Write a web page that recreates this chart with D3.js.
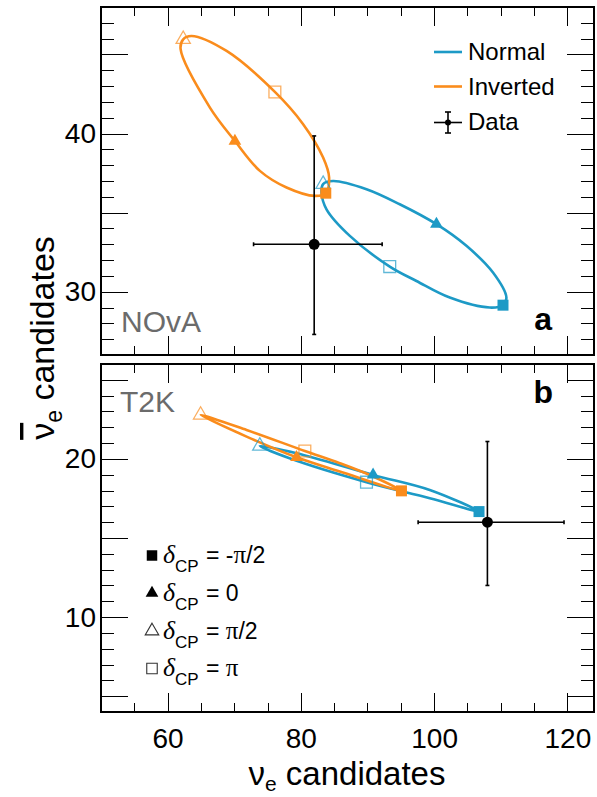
<!DOCTYPE html>
<html><head><meta charset="utf-8">
<script src="https://cdn.jsdelivr.net/npm/d3@7"></script>
<style>html,body{margin:0;padding:0;background:#fff}</style>
</head><body>
<svg id="c" width="597" height="797"></svg>
<script>
// ---------------- data ----------------
const deltaLabels = ["-π/2", "0", "π/2", "π"];
const xTickLabels = [60, 80, 100, 120];
const yTickLabelsA = [30, 40];
const yTickLabelsB = [10, 20];
const seriesNames = ["Normal", "Inverted"];
const panelNames = ["NOvA", "T2K"];

// closed curves traced around the ellipses (ν_e, ν̄_e)
const novaNormalCurve = [[110.34,29.15],[110.85,29.63],[108.84,31.21],[104.85,32.9],[100.35,34.27],[94.84,35.53],[89.85,36.48],[84.84,37.0],[83.34,36.8],[83.1,36.27],[83.85,35.21],[87.35,33.53],[93.34,31.59],[97.35,30.68],[102.35,29.63],[108.34,29.0]];
const novaInvertedCurve = [[83.74,36.23],[82.1,36.06],[77.85,36.59],[73.85,37.64],[70.1,39.53],[66.35,41.64],[61.95,45.33],[62.34,45.96],[63.6,46.17],[68.85,45.22],[76.1,42.63],[80.34,40.59],[83.34,38.48],[84.24,37.22]];
const t2kNormalCurve = [[106.74,16.67],[99.35,18.04],[90.84,18.99],[79.35,20.36],[73.84,20.82],[78.3,20.04],[89.85,18.53],[99.35,17.52]];
const t2kInvertedCurve = [[95.1,17.98],[85.84,19.2],[79.35,20.1],[71.85,21.41],[64.95,22.78],[71.85,21.83],[80.6,20.5],[85.84,19.73],[90.5,18.95]];

// markers at δCP = -π/2, 0, π/2, π
const novaNormalPts = [[110.34,29.15],[100.35,34.27],[83.34,36.8],[93.34,31.59]];
const novaInvertedPts = [[83.74,36.23],[70.1,39.53],[62.34,45.96],[76.1,42.63]];
const t2kNormalPts = [[106.74,16.67],[90.84,18.99],[73.84,20.82],[89.85,18.53]];
const t2kInvertedPts = [[95.1,17.98],[79.35,20.1],[64.95,22.78],[80.6,20.5]];

// observed data [x, y], x-range, y-range
const novaData = [82.0, 33.0];
const novaXErr = [72.9, 92.2];
const novaYErr = [27.3, 39.85];
const t2kData = [108.0, 16.0];
const t2kXErr = [97.6, 119.5];
const t2kYErr = [12.0, 21.1];

// ---------------- layout ----------------
const BLUE = "#1d9ac6", ORANGE = "#fa8c1c";
const FONT = "'Liberation Sans', Arial, Helvetica, sans-serif";
const SERIF = "'Liberation Serif', 'Times New Roman', serif";
const svg = d3.select("#c");
const L = 101, R = 594;
const x = d3.scaleLinear().domain([50, 124]).range([L, R]);
const yA = d3.scaleLinear().domain([26, 48]).range([355, 7]);
const yB = d3.scaleLinear().domain([4, 26]).range([712, 364]);

function ticksAll(a, b, step) { const r = []; for (let v = Math.ceil(a/step)*step; v <= b; v += step) r.push(+v.toFixed(6)); return r; }

function drawAxes(y, labels, showX) {
  const [d0, d1] = y.domain();
  const top = y.range()[1], bot = y.range()[0];
  const yMajor = ticksAll(d0, d1, 5).filter(v => v > d0 && v < d1);
  const yMinor = ticksAll(d0, d1, 1).filter(v => v % 5 !== 0 && v > d0 && v < d1);
  const xMajor = xTickLabels;
  const xMinor = ticksAll(50, 124, 5).filter(v => v % 20 !== 0 && v > 50);
  const g = svg.append("g").attr("font-family", FONT);
  const style = sel => {
    sel.select(".domain").remove();
    sel.selectAll("line").attr("stroke", "#000").attr("stroke-width", 1).attr("shape-rendering","crispEdges");
    sel.selectAll("text").filter(function(){ return this.textContent === ""; }).remove();
  };
  const lab = s => s.selectAll("text").attr("font-size", 28).attr("font-family", FONT).attr("fill", "#000");
  g.append("g").attr("transform", `translate(${L},0)`)
    .call(d3.axisLeft(y).tickValues(yMajor).tickSize(-27).tickPadding(5).tickFormat(d => labels.includes(d) ? d : ""))
    .call(style).call(lab);
  g.append("g").attr("transform", `translate(${L},0)`)
    .call(d3.axisLeft(y).tickValues(yMinor).tickSize(-13).tickFormat("")).call(style);
  g.append("g").attr("transform", `translate(${R},0)`)
    .call(d3.axisRight(y).tickValues(yMajor).tickSize(-27).tickFormat("")).call(style);
  g.append("g").attr("transform", `translate(${R},0)`)
    .call(d3.axisRight(y).tickValues(yMinor).tickSize(-13).tickFormat("")).call(style);
  g.append("g").attr("transform", `translate(0,${top})`)
    .call(d3.axisTop(x).tickValues(xMajor).tickSize(-19).tickFormat("")).call(style);
  g.append("g").attr("transform", `translate(0,${top})`)
    .call(d3.axisTop(x).tickValues(xMinor).tickSize(-9).tickFormat("")).call(style);
  g.append("g").attr("transform", `translate(0,${bot})`)
    .call(d3.axisBottom(x).tickValues(xMajor).tickSize(-19).tickPadding(16).tickFormat(d => showX ? d : ""))
    .call(style).call(lab);
  g.append("g").attr("transform", `translate(0,${bot})`)
    .call(d3.axisBottom(x).tickValues(xMinor).tickSize(-9).tickFormat("")).call(style);
  svg.append("rect").attr("x", L).attr("y", top).attr("width", R - L).attr("height", bot - top)
    .attr("fill", "none").attr("stroke", "#000").attr("stroke-width", 2);
}

const symTypes = [d3.symbolSquare, d3.symbolTriangle, d3.symbolTriangle, d3.symbolSquare];
const symSizes = [121, 70, 88, 140];
const symFilled = [true, true, false, false];

function drawCurve(y, curve, color) {
  const line = d3.line().x(d => x(d[0])).y(d => y(d[1])).curve(d3.curveCatmullRomClosed.alpha(0.5));
  svg.append("path").attr("d", line(curve)).attr("fill", "none").attr("stroke", color).attr("stroke-width", 2.6);
}
function drawMarkers(y, pts, color) {
  svg.append("g").selectAll("path").data(pts).join("path")
    .attr("transform", d => `translate(${x(d[0])},${y(d[1])})`)
    .attr("d", (d, i) => d3.symbol(symTypes[i], symSizes[i])())
    .attr("fill", (d, i) => symFilled[i] ? color : "none")
    .attr("stroke", color)
    .attr("stroke-opacity", (d, i) => symFilled[i] ? 1 : 0.7)
    .attr("stroke-width", (d, i) => symFilled[i] ? 0 : 1.3);
}
function drawData(y, pt, xe, ye) {
  const g = svg.append("g").attr("stroke", "#000").attr("stroke-width", 1.6);
  g.append("line").attr("x1", x(xe[0])).attr("x2", x(xe[1])).attr("y1", y(pt[1])).attr("y2", y(pt[1]));
  g.append("line").attr("x1", x(pt[0])).attr("x2", x(pt[0])).attr("y1", y(ye[0])).attr("y2", y(ye[1]));
  [xe[0], xe[1]].forEach(v => g.append("line").attr("x1", x(v)).attr("x2", x(v)).attr("y1", y(pt[1]) - 2).attr("y2", y(pt[1]) + 2));
  [ye[0], ye[1]].forEach(v => g.append("line").attr("y1", y(v)).attr("y2", y(v)).attr("x1", x(pt[0]) - 2).attr("x2", x(pt[0]) + 2));
  svg.append("circle").attr("cx", x(pt[0])).attr("cy", y(pt[1])).attr("r", 5.5).attr("fill", "#000");
}

// panel a: NOvA
drawAxes(yA, yTickLabelsA, false);
drawCurve(yA, novaNormalCurve, BLUE);
drawCurve(yA, novaInvertedCurve, ORANGE);
drawMarkers(yA, novaNormalPts, BLUE);
drawMarkers(yA, novaInvertedPts, ORANGE);
drawData(yA, novaData, novaXErr, novaYErr);

// panel b: T2K
drawAxes(yB, yTickLabelsB, true);
drawCurve(yB, t2kNormalCurve, BLUE);
drawCurve(yB, t2kInvertedCurve, ORANGE);
drawMarkers(yB, t2kNormalPts, BLUE);
drawMarkers(yB, t2kInvertedPts, ORANGE);
drawData(yB, t2kData, t2kXErr, t2kYErr);

// panel labels
svg.append("text").attr("x", 121).attr("y", 332).attr("font-family", FONT).attr("font-size", 30).attr("fill", "#6b6b6b").text(panelNames[0]);
svg.append("text").attr("x", 120).attr("y", 412).attr("font-family", FONT).attr("font-size", 30).attr("fill", "#6b6b6b").text(panelNames[1]);
svg.append("text").attr("x", 552).attr("y", 330).attr("text-anchor", "end").attr("font-family", FONT).attr("font-weight", "bold").attr("font-size", 32).text("a");
svg.append("text").attr("x", 553).attr("y", 403).attr("text-anchor", "end").attr("font-family", FONT).attr("font-weight", "bold").attr("font-size", 32).text("b");

// legend top right
const lg = svg.append("g").attr("font-family", FONT).attr("font-size", 24);
[[BLUE, 52, 60], [ORANGE, 86.5, 95]].forEach(([c, ly, ty], i) => {
  lg.append("line").attr("x1", 434).attr("x2", 462).attr("y1", ly).attr("y2", ly).attr("stroke", c).attr("stroke-width", 2.6);
  lg.append("text").attr("x", 468).attr("y", ty).text(seriesNames[i]);
});
lg.append("line").attr("x1", 434).attr("x2", 462).attr("y1", 122.5).attr("y2", 122.5).attr("stroke", "#000").attr("stroke-width", 1.6);
lg.append("line").attr("x1", 448).attr("x2", 448).attr("y1", 112).attr("y2", 133).attr("stroke", "#000").attr("stroke-width", 1.6);
lg.append("line").attr("x1", 445).attr("x2", 451).attr("y1", 112).attr("y2", 112).attr("stroke", "#000").attr("stroke-width", 1.6);
lg.append("line").attr("x1", 445).attr("x2", 451).attr("y1", 133).attr("y2", 133).attr("stroke", "#000").attr("stroke-width", 1.6);
lg.append("circle").attr("cx", 448).attr("cy", 122.5).attr("r", 3).attr("fill", "#000");
lg.append("text").attr("x", 468).attr("y", 130).text("Data");

// legend δCP
const dl = svg.append("g").attr("font-family", FONT);
const rowY = [555.5, 593, 631, 668.5];
const legSizes = [110, 70, 80, 110];
deltaLabels.forEach((lab, i) => {
  const cy = rowY[i];
  dl.append("path").attr("transform", `translate(152,${cy})`)
    .attr("d", d3.symbol(symTypes[i], legSizes[i])())
    .attr("fill", symFilled[i] ? "#000" : "none").attr("stroke", symFilled[i] ? "none" : "#333").attr("stroke-width", 1.1);
  const t = dl.append("text").attr("x", 163).attr("y", cy + 7.5).attr("font-size", 23);
  t.append("tspan").attr("font-family", SERIF).attr("font-style", "italic").attr("font-size", 26).text("δ");
  t.append("tspan").attr("font-size", 17).attr("dy", 9).text("CP");
  t.append("tspan").attr("x", 206).attr("dy", -9).text("= ");
  const parts = lab.split("π");
  if (parts.length === 1) t.append("tspan").text(lab);
  else {
    if (parts[0]) t.append("tspan").text(parts[0]);
    t.append("tspan").attr("font-family", SERIF).attr("font-size", 25).text("π");
    if (parts[1]) t.append("tspan").text(parts[1]);
  }
});

// axis titles
const xt = svg.append("text").attr("x", 347).attr("y", 785).attr("text-anchor", "middle").attr("font-family", FONT).attr("font-size", 33);
xt.append("tspan").text("ν");
xt.append("tspan").attr("font-size", 21).attr("dy", 6).text("e");
xt.append("tspan").attr("dy", -6).text(" candidates");

const yt = svg.append("text").attr("transform", "translate(54,338) rotate(-90)").attr("text-anchor", "middle").attr("font-family", FONT).attr("font-size", 34);
yt.append("tspan").attr("style", "text-decoration: overline").text("ν");
yt.append("tspan").attr("font-size", 23).attr("dy", 8).text("e");
yt.append("tspan").attr("dy", -8).text(" candidates");
</script>
</body></html>
